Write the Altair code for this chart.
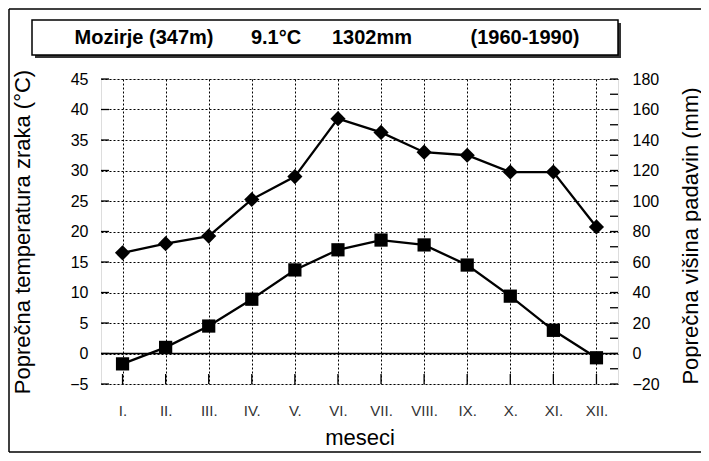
import altair as alt
import pandas as pd

months = ["I.", "II.", "III.", "IV.", "V.", "VI.", "VII.", "VIII.", "IX.", "X.", "XI.", "XII."]
temperature = [-1.7, 1.0, 4.5, 8.9, 13.7, 17.0, 18.6, 17.8, 14.5, 9.4, 3.8, -0.7]
precipitation = [66, 72, 77, 101, 116, 154, 145, 132, 130, 119, 119, 83]
temp_ticks = [-5, 0, 5, 10, 15, 20, 25, 30, 35, 40, 45]
precip_ticks = [-20, -10, 0, 10, 20, 30, 40, 50, 60, 70, 80, 90, 100, 110, 120,
                130, 140, 150, 160, 170, 180]
precip_labels = [-20, 0, 20, 40, 60, 80, 100, 120, 140, 160, 180]
title_parts = ["Mozirje (347m)", "9.1°C", "1302mm", "(1960-1990)"]
title_centers = [43, 175, 271, 424]

W, H = 517, 305
FONT = "Liberation Sans"

df = pd.DataFrame({"mesec": months, "temp": temperature, "padavine": precipitation})
tdf = pd.DataFrame({"v": temp_ticks})
pdf = pd.DataFrame({"v": precip_ticks})
mdf = pd.DataFrame({"mesec": months})
one = pd.DataFrame({"a": [0]})
ttl = pd.DataFrame({"t": title_parts, "cx": title_centers})

x_scale = alt.Scale(type="point", domain=months, padding=0.5)
t_scale = alt.Scale(domain=[-5, 45], nice=False, zero=False)
p_scale = alt.Scale(domain=[-20, 180], nice=False, zero=False)

x_axis = alt.Axis(
    title="meseci", grid=True, gridDash=[2, 2], gridColor="black", gridWidth=1,
    gridOpacity=1, domain=False, ticks=False, labelFont=FONT, labelFontSize=15,
    labelColor="#333", labelPadding=19, labelAngle=0, titleFont=FONT,
    titleFontSize=22, titleFontWeight="normal", titleColor="black",
    titleY=53, titleBaseline="middle",
)
t_axis = alt.Axis(
    title="Poprečna temperatura zraka (°C)", orient="left", values=temp_ticks,
    grid=True, gridDash=[2, 2], gridColor="black", gridWidth=1, gridOpacity=1,
    domain=False, ticks=False, labelFont=FONT, labelFontSize=16, labelColor="black",
    labelPadding=13, titleFont=FONT, titleFontSize=22, titleFontWeight="normal",
    titleColor="black", titleAngle=270, titleX=-79, titleY=H / 2,
    titleAlign="center", titleBaseline="middle",
)
p_axis = alt.Axis(
    title="Poprečna višina padavin (mm)", orient="right", values=precip_labels,
    grid=False, domain=False, ticks=False, labelFont=FONT, labelFontSize=16,
    labelColor="black", labelPadding=14, titleFont=FONT, titleFontSize=22,
    titleFontWeight="normal", titleColor="black", titleAngle=270, titleX=72,
    titleY=H / 2 + 4, titleAlign="center", titleBaseline="middle",
)

base = alt.Chart(df)

temp_line = base.mark_line(color="black", strokeWidth=2.3).encode(
    x=alt.X("mesec:N", scale=x_scale, axis=x_axis, sort=months),
    y=alt.Y("temp:Q", scale=t_scale, axis=t_axis),
)
temp_pts = base.mark_point(shape="square", filled=True, size=175, color="black", opacity=1).encode(
    x=alt.X("mesec:N", scale=x_scale, axis=None, sort=months),
    y=alt.Y("temp:Q", scale=t_scale, axis=None),
)
prec_line = base.mark_line(color="black", strokeWidth=2.3).encode(
    x=alt.X("mesec:N", scale=x_scale, axis=None, sort=months),
    y=alt.Y("padavine:Q", scale=p_scale, axis=p_axis),
)
prec_pts = base.mark_point(shape="diamond", filled=True, size=230, color="black", opacity=1).encode(
    x=alt.X("mesec:N", scale=x_scale, axis=None, sort=months),
    y=alt.Y("padavine:Q", scale=p_scale, axis=None),
)

zero_rule = alt.Chart(pd.DataFrame({"v": [0]})).mark_rule(color="black", strokeWidth=1.5).encode(
    y=alt.Y("v:Q", scale=t_scale, axis=None)
)
left_ticks = alt.Chart(tdf).mark_rule(color="black", strokeWidth=1.3).encode(
    y=alt.Y("v:Q", scale=t_scale, axis=None), x=alt.value(0), x2=alt.value(8)
)
right_ticks = alt.Chart(pdf).mark_rule(color="black", strokeWidth=1.3).encode(
    y=alt.Y("v:Q", scale=p_scale, axis=None), x=alt.value(W - 8), x2=alt.value(W)
)
bottom_ticks = alt.Chart(mdf).mark_rule(color="black", strokeWidth=1.3).encode(
    x=alt.X("mesec:N", scale=x_scale, axis=None, sort=months),
    y=alt.value(H - 10), y2=alt.value(H),
)

# title box
shadow = alt.Chart(one).mark_rect(color="#333").encode(
    x=alt.value(-66), x2=alt.value(W + 3), y=alt.value(-56), y2=alt.value(-21)
)
box = alt.Chart(one).mark_rect(fill="white", stroke="black", strokeWidth=1.5).encode(
    x=alt.value(-69), x2=alt.value(W), y=alt.value(-59), y2=alt.value(-24)
)
title = alt.Chart(ttl).mark_text(
    font=FONT, fontSize=20, fontWeight="bold", align="center", baseline="middle", color="black"
).encode(x=alt.X("cx:Q", scale=None), y=alt.value(-41), text="t:N")

# outer frame
frame_left = alt.Chart(one).mark_rule(color="black", strokeWidth=1.5).encode(
    x=alt.value(-92), y=alt.value(-70), y2=alt.value(373)
)
frame_top = alt.Chart(one).mark_rule(color="black", strokeWidth=1.5).encode(
    x=alt.value(-92), x2=alt.value(600), y=alt.value(-70)
)
frame_bottom = alt.Chart(one).mark_rule(color="black", strokeWidth=1.5).encode(
    x=alt.value(-92), x2=alt.value(600), y=alt.value(373)
)

chart = alt.layer(
    temp_line, zero_rule, left_ticks, bottom_ticks, temp_pts,
    prec_line, prec_pts, right_ticks,
    shadow, box, title, frame_left, frame_top, frame_bottom,
).resolve_scale(
    x="independent", y="independent"
).resolve_axis(
    x="independent", y="independent"
).properties(
    width=W, height=H,
    autosize=alt.AutoSizeParams(type="none"),
    padding={"left": 93, "top": 71, "right": 83, "bottom": 69},
).configure_view(
    stroke="black", strokeWidth=1.5
).configure(background="white")

chart.save("out.html", embed_options={"renderer": "svg", "actions": False})
